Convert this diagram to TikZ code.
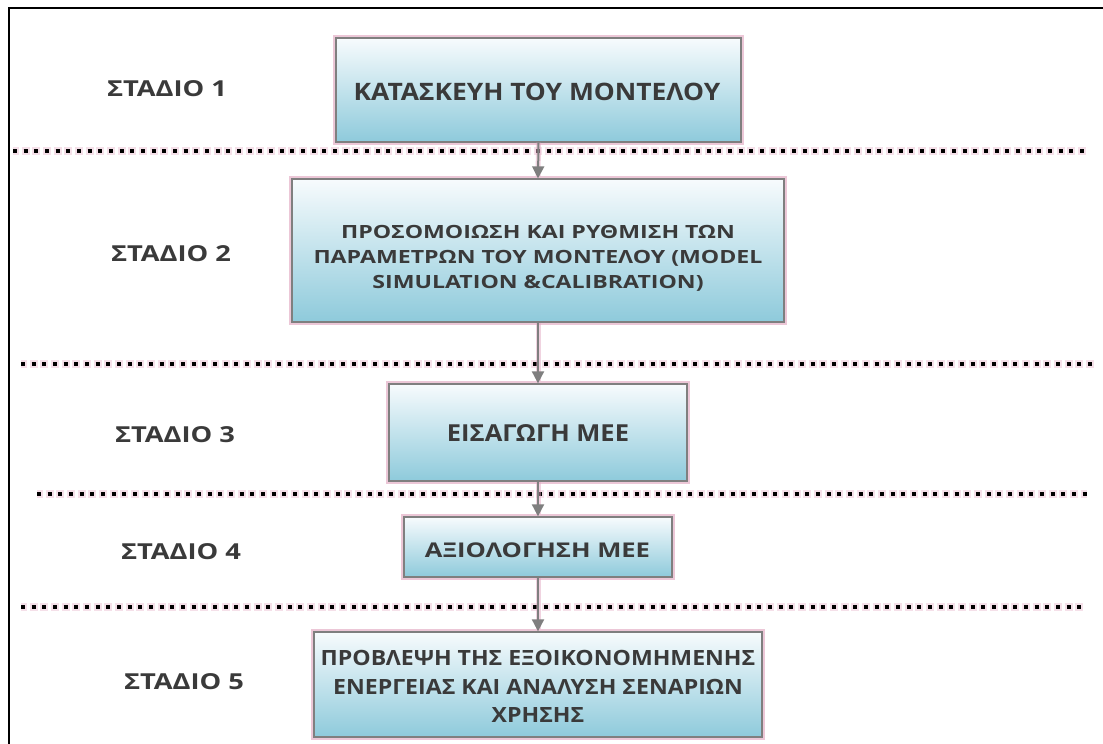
\documentclass[tikz,border=0pt]{standalone}
\usepackage{fontspec}
\setmainfont{Open Sans}
\usetikzlibrary{arrows.meta}
\definecolor{glow}{HTML}{E3A9C2}
\definecolor{boxedge}{HTML}{7F7F7F}
\definecolor{boxtop}{HTML}{F7FBFD}
\definecolor{boxbot}{HTML}{8ECADB}
\definecolor{txt}{HTML}{3A3A3A}
\newcommand\stfont[3]{\bfseries\addfontfeatures{FakeStretch=#1}\fontsize{#2}{#3}\selectfont}
\tikzset{
  stagebox/.style={rectangle, draw=boxedge, line width=1.3pt, top color=boxtop, bottom color=boxbot,
    inner sep=0pt, preaction={draw=glow, line width=5.5pt, opacity=.65}},
  boxtext/.style={inner sep=0pt, align=center, text=txt},
  stagelabel/.style={text=txt, font=\stfont{1.24}{22}{26}, inner sep=0pt},
  sep/.style={black, line width=4pt, dash pattern=on 4pt off 6.67pt},
  sepglow/.style={glow, line width=8pt, dash pattern=on 8pt off 2.67pt, dash phase=2pt, opacity=.35},
  flow/.style={boxedge, line width=2pt, -{Triangle[length=12pt,width=12pt]}},
  flowglow/.style={glow, line width=5pt, opacity=.5, shorten >=2pt}
}
\begin{document}
\begin{tikzpicture}[x=1pt,y=-1pt]
\useasboundingbox (0,0) rectangle (1103,744);
\fill[white] (0,0) rectangle (1103,744);
% frame
\draw[black, line width=2.2pt] (9,744) -- (9,8) -- (1103,8);
% separators
\coordinate (s1a) at (13,151);  \coordinate (s1b) at (1087,151);
\coordinate (s2a) at (21,364);  \coordinate (s2b) at (1095,364);
\coordinate (s3a) at (37,494);  \coordinate (s3b) at (1087,494);
\coordinate (s4a) at (21,607);  \coordinate (s4b) at (1085,607);
\foreach \a/\b in {s1a/s1b, s2a/s2b, s3a/s3b, s4a/s4b}{
  \draw[sepglow] (\a) -- (\b);
  \draw[sep] (\a) -- (\b);
}
% stage labels
\node[stagelabel] (l1) at (167,89) {ΣΤΑΔΙΟ 1};
\node[stagelabel] (l2) at (171,254) {ΣΤΑΔΙΟ 2};
\node[stagelabel] (l3) at (175,435) {ΣΤΑΔΙΟ 3};
\node[stagelabel] (l4) at (181,552) {ΣΤΑΔΙΟ 4};
\node[stagelabel] (l5) at (184,682) {ΣΤΑΔΙΟ 5};
% boxes
\node[stagebox, minimum width=405pt, minimum height=104pt] (b1) at (538.5,90) {};
\node[stagebox, minimum width=492pt, minimum height=143pt] (b2) at (538,250.5) {};
\node[stagebox, minimum width=298pt, minimum height=97pt] (b3) at (538,432.5) {};
\node[stagebox, minimum width=268pt, minimum height=60pt] (b4) at (538,547) {};
\node[stagebox, minimum width=448pt, minimum height=105pt] (b5) at (538,684.5) {};
% box texts
\node[boxtext, font=\stfont{1.10}{24}{28}] (t1) at (537,91.5) {ΚΑΤΑΣΚΕΥΗ ΤΟΥ ΜΟΝΤΕΛΟΥ};
\node[boxtext, font=\stfont{1.27}{18.2}{25}] (t2) at (538,258) {ΠΡΟΣΟΜΟΙΩΣΗ ΚΑΙ ΡΥΘΜΙΣΗ ΤΩΝ\\ΠΑΡΑΜΕΤΡΩΝ ΤΟΥ ΜΟΝΤΕΛΟΥ (MODEL\\SIMULATION \&CALIBRATION)};
\node[boxtext, font=\stfont{1.09}{23.4}{27}] (t3) at (538,433) {ΕΙΣΑΓΩΓΗ ΜΕΕ};
\node[boxtext, font=\stfont{1.26}{20.3}{24}] (t4) at (537.5,550) {ΑΞΙΟΛΟΓΗΣΗ ΜΕΕ};
\node[boxtext, font=\stfont{1.10}{21}{28.5}] (t5) at (538,686.5) {ΠΡΟΒΛΕΨΗ ΤΗΣ ΕΞΟΙΚΟΝΟΜΗΜΕΝΗΣ\\ΕΝΕΡΓΕΙΑΣ ΚΑΙ ΑΝΑΛΥΣΗ ΣΕΝΑΡΙΩΝ\\ΧΡΗΣΗΣ};
% arrows
\foreach \a/\b in {b1/b2, b2/b3, b3/b4, b4/b5}{
  \draw[flowglow] (\a.south) -- (\b.north);
  \draw[flow] (\a.south) -- (\b.north);
}
\end{tikzpicture}
\end{document}
